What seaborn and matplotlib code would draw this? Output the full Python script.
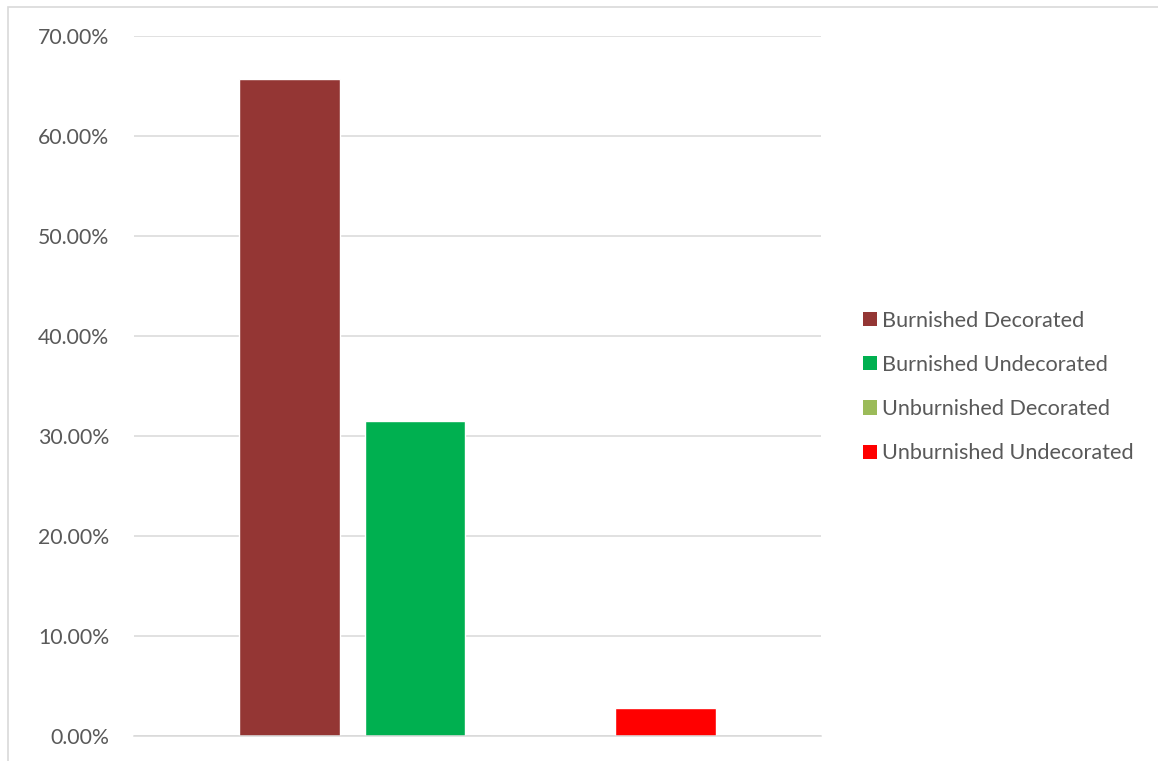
import matplotlib
matplotlib.use("Agg")
import matplotlib.pyplot as plt
import matplotlib.patches as mpatches
import pandas as pd
import seaborn as sns

# Share of sherds by surface treatment
series = ["Burnished Decorated", "Burnished Undecorated",
          "Unburnished Decorated", "Unburnished Undecorated"]
shares = [0.657, 0.315, 0.0, 0.028]
colors = ["#943634", "#00B050", "#9BBB59", "#FF0000"]
ytick_values = [0.0, 0.1, 0.2, 0.3, 0.4, 0.5, 0.6, 0.7]
ytick_labels = ["0.00%", "10.00%", "20.00%", "30.00%", "40.00%", "50.00%", "60.00%", "70.00%"]

df = pd.DataFrame({"group": [""] * len(series), "series": series, "share": shares})

sns.set_theme(style="white")
plt.rcParams["font.family"] = ["Lato", "DejaVu Sans"]

W, H = 1158, 761
fig = plt.figure(figsize=(W / 100, H / 100), dpi=100)
ax = fig.add_axes([134 / W, (H - 736) / H, (821 - 134) / W, (736 - 36) / H])

sns.barplot(data=df, x="group", y="share", hue="series", hue_order=series,
            palette=colors, width=0.73, gap=0.2, saturation=1.0,
            legend=False, ax=ax)

ax.set_xlim(-0.5, 0.5)
ax.set_ylim(0, 0.7)
ax.set_yticks(ytick_values)
ax.set_yticklabels(ytick_labels, fontsize=15.3, color="#595959")
ax.set_xticks([])
ax.set_xlabel("")
ax.set_ylabel("")
ax.tick_params(axis="y", length=0, pad=18)
ax.yaxis.grid(True, color="#D9D9D9", linewidth=1.1)
ax.set_axisbelow(True)
for side in ["top", "right", "left"]:
    ax.spines[side].set_visible(False)
ax.spines["bottom"].set_color("#D9D9D9")
ax.spines["bottom"].set_linewidth(1.1)

handles = [mpatches.Patch(facecolor=c, edgecolor="none") for c in colors]
fig.legend(handles, series, loc="center left",
           bbox_to_anchor=(863 / W, (H - 387) / H), frameon=False,
           borderpad=0, borderaxespad=0,
           fontsize=15.6, labelcolor="#595959", handlelength=0.65,
           handleheight=0.65, handletextpad=0.25, labelspacing=1.12)

# outer chart frame
fig.patches.append(mpatches.Rectangle((8 / W, -0.01), 1.0, (H - 7) / H + 0.01,
                                      transform=fig.transFigure, fill=False,
                                      edgecolor="#D9D9D9", linewidth=1.2))

fig.savefig("out.png", dpi=100, facecolor="white")
